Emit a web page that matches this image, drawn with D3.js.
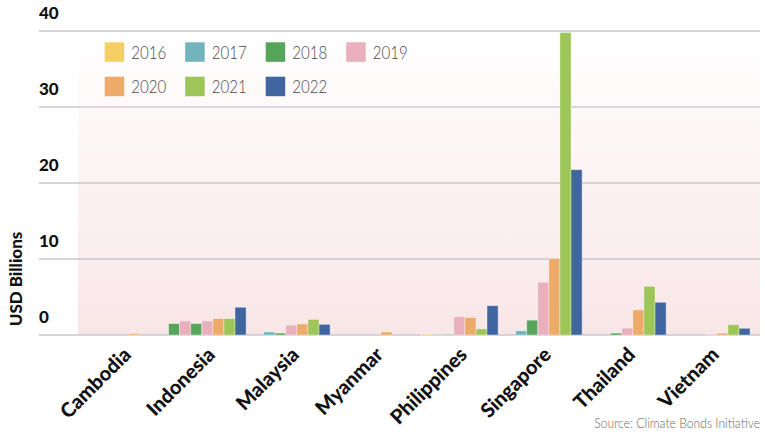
<!DOCTYPE html>
<html>
<head>
<meta charset="utf-8">
<script src="https://cdn.jsdelivr.net/npm/d3@7"></script>
<style>
  html, body { margin: 0; padding: 0; background: #fff; }
  svg { display: block; font-family: "Source Sans Pro", Lato, "Open Sans", sans-serif; }
</style>
</head>
<body>
<svg id="chart" width="765" height="433"></svg>
<script>
// Data
var countries = ['Cambodia', 'Indonesia', 'Malaysia', 'Myanmar', 'Philippines', 'Singapore', 'Thailand', 'Vietnam'];
var years = ['2016', '2017', '2018', '2019', '2020', '2021', '2022'];
var colours = ['#f5cf65', '#72b3bd', '#57a45b', '#e9afbd', '#ecab6b', '#9dc558', '#4065a0'];
// one array per year, in country order
var v2016 = [0, 1.5, 0, 0, 0.1, 0, 0, 0];
var v2017 = [0, 1.85, 0.4, 0, 0.05, 0.55, 0, 0];
var v2018 = [0, 1.5, 0.25, 0, 0.08, 1.95, 0.25, 0];
var v2019 = [0, 1.85, 1.3, 0, 2.4, 6.95, 0.9, 0.12];
var v2020 = [0.2, 2.15, 1.45, 0.4, 2.3, 10.05, 3.3, 0.25];
var v2021 = [0, 2.15, 2.05, 0, 0.8, 39.8, 6.4, 1.35];
var v2022 = [0, 3.65, 1.4, 0, 3.85, 21.75, 4.3, 0.88];
var yTicks = [0, 10, 20, 30, 40];
// the source chart draws two Indonesia bars in other series' colours
var colourOverrides = [
    { country: 'Indonesia', year: '2016', colour: '#57a45b' },
    { country: 'Indonesia', year: '2017', colour: '#e9afbd' }
];

var seriesValues = [v2016, v2017, v2018, v2019, v2020, v2021, v2022];

var svg = d3.select('#chart');
var plot = { left: 78, right: 760, top: 31, bottom: 335 };

var x = d3.scaleBand()
    .domain(countries)
    .range([81.35, 753.35])
    .paddingInner(0.0774)
    .paddingOuter(0.0387);
var xYear = d3.scaleBand()
    .domain(years)
    .range([0, x.bandwidth()]);
var y = d3.scaleLinear()
    .domain([0, 40])
    .range([plot.bottom, plot.top]);
var colour = d3.scaleOrdinal().domain(years).range(colours);

// Background gradient
var defs = svg.append('defs');
var grad = defs.append('linearGradient')
    .attr('id', 'bg')
    .attr('x1', 0).attr('y1', 0).attr('x2', 0).attr('y2', 1);
grad.append('stop').attr('offset', '0%').attr('stop-color', '#ffffff');
grad.append('stop').attr('offset', '100%').attr('stop-color', '#f9e6e7');

svg.append('rect')
    .attr('x', plot.left)
    .attr('y', plot.top)
    .attr('width', plot.right - plot.left)
    .attr('height', plot.bottom - plot.top)
    .attr('fill', 'url(#bg)');

// Gridlines + tick labels
var grid = svg.append('g');
grid.selectAll('line')
    .data(yTicks)
    .enter()
    .append('line')
    .attr('x1', 39)
    .attr('x2', plot.right)
    .attr('y1', function (d) { return y(d); })
    .attr('y2', function (d) { return y(d); })
    .attr('stroke', '#c8c7cf')
    .attr('stroke-width', 1.5);
grid.selectAll('text')
    .data(yTicks)
    .enter()
    .append('text')
    .attr('x', 39)
    .attr('y', function (d) { return y(d) - 12; })
    .attr('font-size', 17)
    .attr('font-weight', 900)
    .attr('fill', '#111')
    .text(function (d) { return d; });

// Y title
svg.append('text')
    .attr('transform', 'translate(22,279) rotate(-90)')
    .attr('text-anchor', 'middle')
    .attr('font-size', 17)
    .attr('font-weight', 900)
    .attr('fill', '#111')
    .text('USD Billions');

// Bars
function barColour(country, year) {
    var o = colourOverrides.filter(function (c) { return c.country === country && c.year === year; });
    return o.length ? o[0].colour : colour(year);
}
var groups = svg.append('g').selectAll('g')
    .data(countries)
    .enter()
    .append('g')
    .attr('transform', function (d) { return 'translate(' + x(d) + ',0)'; });
groups.selectAll('rect')
    .data(function (c, ci) {
        return years.map(function (yr, yi) { return { country: c, year: yr, value: seriesValues[yi][ci] }; });
    })
    .enter()
    .filter(function (d) { return d.value > 0; })
    .append('rect')
    .attr('x', function (d) { return xYear(d.year); })
    .attr('y', function (d) { return y(d.value); })
    .attr('width', xYear.bandwidth())
    .attr('height', function (d) { return y(0) - y(d.value); })
    .attr('fill', function (d) { return barColour(d.country, d.year); })
    .attr('stroke', 'rgba(255,255,255,0.45)')
    .attr('stroke-width', 0.8);

// Country labels
svg.append('g').selectAll('text')
    .data(countries)
    .enter()
    .append('text')
    .attr('transform', function (d) {
        return 'translate(' + (x(d) + x.bandwidth() / 2 - 1) + ',346) rotate(-45)';
    })
    .attr('text-anchor', 'end')
    .attr('dy', '0.7em')
    .attr('font-size', 20)
    .attr('font-weight', 900)
    .attr('fill', '#111')
    .text(function (d) { return d; });

// Legend
var legend = svg.append('g').selectAll('g')
    .data(years)
    .enter()
    .append('g')
    .attr('transform', function (d, i) {
        return 'translate(' + (104.7 + (i % 4) * 80.5) + ',' + (42.3 + Math.floor(i / 4) * 34.4) + ')';
    });
legend.append('rect')
    .attr('width', 19.5)
    .attr('height', 19.5)
    .attr('fill', function (d) { return colour(d); });
legend.append('text')
    .attr('transform', 'translate(26.5,16.5) scale(0.84,1)')
    .attr('font-size', 18)
    .attr('font-weight', 300)
    .attr('fill', '#4a4a4a')
    .text(function (d) { return d; });

// Source
svg.append('text')
    .attr('transform', 'translate(760,428) scale(0.9,1)')
    .attr('text-anchor', 'end')
    .attr('font-size', 13.5)
    .attr('font-weight', 300)
    .attr('fill', '#666')
    .text('Source: Climate Bonds Initiative');
</script>
</body>
</html>
